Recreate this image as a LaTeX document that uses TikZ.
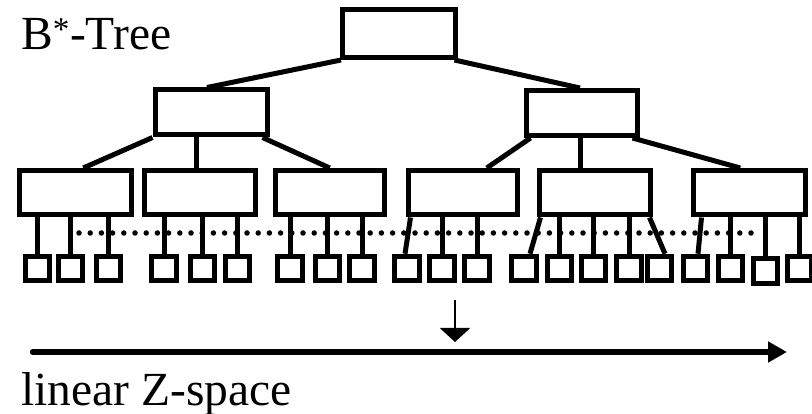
\documentclass[tikz,border=0pt]{standalone}
\usepackage{fontspec}
\setmainfont{Liberation Serif}
\usetikzlibrary{arrows.meta}
\begin{document}
\begin{tikzpicture}[x=1pt,y=-1pt,
  box/.style={draw,line width=5pt,rectangle,inner sep=0pt,minimum height=45pt},
  leaf/.style={draw,line width=5pt,rectangle,inner sep=0pt,minimum width=24.5pt,minimum height=24.5pt},
  edge/.style={line width=5pt},
  dotline/.style={line width=5.5pt,line cap=round,dash pattern=on 0pt off 11.2pt},
  bigtext/.style={inner sep=0pt,font=\fontsize{47.5pt}{52pt}\selectfont}]
\useasboundingbox (0,0) rectangle (812,414);
% root and middle level
\node[box,minimum width=112.5pt,minimum height=47.5pt] (root) at (398.75,33.75) {};
\node[box,minimum width=112pt] (lm) at (211,112.5) {};
\node[box,minimum width=111pt] (rm) at (581.5,113) {};
% third level
\node[box,minimum width=111.5pt,minimum height=44.5pt] (b1) at (75.25,192.75) {};
\node[box,minimum width=111pt,minimum height=44.5pt] (b2) at (199.5,192.75) {};
\node[box,minimum width=108.5pt,minimum height=44.5pt] (b3) at (329.75,192.75) {};
\node[box,minimum width=108.5pt,minimum height=44.5pt] (b4) at (462.75,192.75) {};
\node[box,minimum width=110.5pt,minimum height=44.5pt] (b5) at (594.75,192.75) {};
\node[box,minimum width=111.5pt,minimum height=44.5pt] (b6) at (749.25,192.75) {};
% leaves
\foreach \i/\x in {1/37.5,2/70.5,3/108.5,4/164,5/202.5,6/237.5,7/290,8/327.5,9/362,
  10/407,11/442,12/477,13/524,14/559.5,15/593.5,16/629,17/659.5,18/695.5,19/730.5,21/799.5}
  \node[leaf] (l\i) at (\x,268.5) {};
\node[leaf] (l20) at (765.5,271) {};
% root to middle
\draw[edge] ([xshift=1pt]root.south west) -- ([xshift=-4pt]lm.north);
\draw[edge] ([xshift=-3pt]root.south east) -- ([xshift=-1.5pt]rm.north);
% middle to third
\draw[edge] (lm.south west) -- ([xshift=8pt]b1.north);
\draw[edge] ([xshift=-15pt]lm.south) -- ([xshift=-3.5pt]b2.north);
\draw[edge] ([xshift=-7pt]lm.south east) -- (b3.north);
\draw[edge] ([xshift=7pt]rm.south west) -- ([xshift=24pt]b4.north);
\draw[edge] ([xshift=-1.5pt]rm.south) -- ([xshift=-14.75pt]b5.north);
\draw[edge] ([xshift=-7pt]rm.south east) -- ([xshift=-9pt]b6.north);
% third to leaves
\foreach \b/\l in {b1/l1,b1/l2,b1/l3,b2/l4,b2/l5,b2/l6,b3/l7,b3/l8,b3/l9,
  b4/l11,b4/l12,b5/l14,b5/l15,b5/l16,b6/l19,b6/l20,b6/l21}
  \draw[edge] (\l.north |- \b.south) -- (\l.north);
\draw[edge] ([xshift=4.5pt]b4.south west) -- ([xshift=-2pt]l10.north);
\draw[edge] ([xshift=3.5pt]b5.south west) -- ([xshift=6pt]l13.north);
\draw[edge] ([xshift=-3pt]b5.south east) -- ([xshift=5.5pt]l17.north);
\draw[edge] ([xshift=10.5pt]b6.south west) -- ([xshift=2.5pt]l18.north);
% dotted line
\coordinate (d1) at (79,233);
\coordinate (d2) at (762,233);
\draw[dotline] (d1) -- (d2);
% arrows
\coordinate (as) at (455,300);
\coordinate (ae) at (455,342);
\draw[line width=2.5pt,-{Triangle[length=14pt,width=30pt]}] (as) -- (ae);
\coordinate (zs) at (33,352);
\coordinate (ze) at (787,352);
\draw[line width=6.5pt,line cap=round,-{Triangle[length=19pt,width=20pt]}] (zs) -- (ze);
% texts
\node[bigtext,anchor=base west] (title) at (21,50) {B\textsuperscript{*}-Tree};
\node[bigtext,anchor=base west] (zlabel) at (21,405) {linear Z-space};
\end{tikzpicture}
\end{document}
